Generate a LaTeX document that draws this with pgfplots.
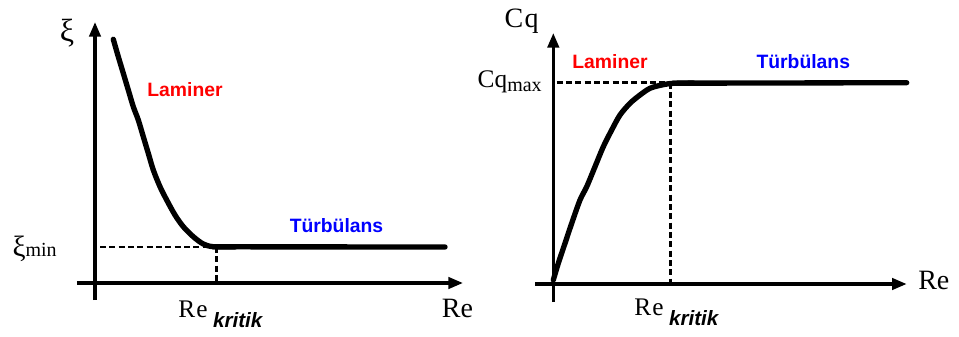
\documentclass[border=0pt]{standalone}
\usepackage{fontspec}
\setmainfont{Liberation Serif}
\setsansfont{Liberation Sans}
\usepackage{pgfplots}
\pgfplotsset{compat=1.18}
\usetikzlibrary{arrows.meta}
\newcommand{\fs}[1]{\fontsize{#1}{#1}\selectfont}
\newcommand{\lab}[1]{{\sffamily\bfseries\fs{14.5}#1}}
\pgfplotsset{
  diag/.style={
    x=0.75pt, y=0.75pt,
    axis lines=middle, enlargelimits=false,
    xtick=\empty, ytick=\empty, clip=false,
    every inner x axis line/.append style={line width=2.5pt,-{Triangle[length=11pt,width=8.5pt]}},
    every inner y axis line/.append style={line width=2.5pt,-{Triangle[length=11pt,width=8.5pt]}},
  },
  curve/.style={line width=4pt, black, smooth, line join=round, line cap=round},
  dsh/.style={line width=1.9pt, black, dash pattern=on 4.5pt off 2.5pt},
}
\begin{document}
\begin{tikzpicture}
\useasboundingbox (0,0) rectangle (719.25pt,252pt);
% ---------- left diagram ----------
\begin{axis}[diag, xmin=-18, xmax=368, ymin=-17, ymax=261,
  at={(57.75pt,27pt)}, anchor=south west]
\addplot[dsh] coordinates {(5,36) (118,36)};
\addplot[dsh] coordinates {(121.7,36) (121.7,0)};
\addplot[curve] coordinates {
(18.3,243.7) (23.3,226.3) (28.3,209.7) (33.3,193) (38.3,176.3) (43.3,163)
(48.3,146.3) (53.3,129.7) (58.3,113) (65,96.3) (71.7,83) (80,68)
(88.3,56.3) (98.3,46.3) (108.3,39) (118.3,36.3) (140,36)};
\addplot[line width=4pt, black, line cap=round] coordinates {(118.3,36.2) (350,36)};
\node[anchor=center, font=\fs{24}] at (axis cs:-28,250) {ξ};
\node[anchor=base east, inner sep=0pt] at (axis cs:-38,27) {{\fs{22}ξ}\raisebox{0pt}{\fs{15}min}};
\node[red] at (axis cs:90,193) {\lab{Laminer}};
\node[blue] at (axis cs:241.5,57) {\lab{Türbülans}};
\node[anchor=base west, inner sep=0pt] at (axis cs:83,-34) {\fs{19}R\hspace{1pt}e\hspace{4pt}\raisebox{-8pt}{\sffamily\bfseries\itshape\fs{15.5}kritik}};
\node[anchor=base west, inner sep=0pt] at (axis cs:346.7,-34) {\fs{21}Re};
\end{axis}
% ---------- right diagram ----------
\begin{axis}[diag, xmin=-18.3, xmax=353.4, ymin=-18, ymax=251,
  at={(401.25pt,25.5pt)}, anchor=south west]
\addplot[dsh] coordinates {(3.4,201.3) (117.4,201.3)};
\addplot[dsh] coordinates {(117.4,201.3) (117.4,0)};
\addplot[curve] coordinates {
(0,4) (5,20.7) (11.7,40.7) (18.4,60.7) (26.7,84) (33.4,97.3) (41.7,117.3)
(50,137.3) (58.4,154) (66.7,169) (76.7,180.7) (86.7,189) (96.7,195.7)
(108.4,199) (120,200.7) (140,201)};
\addplot[line width=4pt, black, line cap=round] coordinates {(120,200.8) (353.4,201.3)};
\node[anchor=base west, inner sep=0pt] at (axis cs:-49,256) {\fs{21}C\hspace{1pt}q};
\node[anchor=base east, inner sep=0pt] at (axis cs:-11.3,196) {\fs{19}Cq\raisebox{-2.5pt}{\fs{15}max}};
\node[red] at (axis cs:56.7,222.3) {\lab{Laminer}};
\node[blue] at (axis cs:250,222) {\lab{Türbülans}};
\node[anchor=base west, inner sep=0pt] at (axis cs:80.7,-31) {\fs{19}R\hspace{1pt}e\hspace{4pt}\raisebox{-8pt}{\sffamily\bfseries\itshape\fs{15.5}kritik}};
\node[anchor=base west, inner sep=0pt] at (axis cs:364.7,-5) {\fs{21}Re};
\end{axis}
\end{tikzpicture}
\end{document}
